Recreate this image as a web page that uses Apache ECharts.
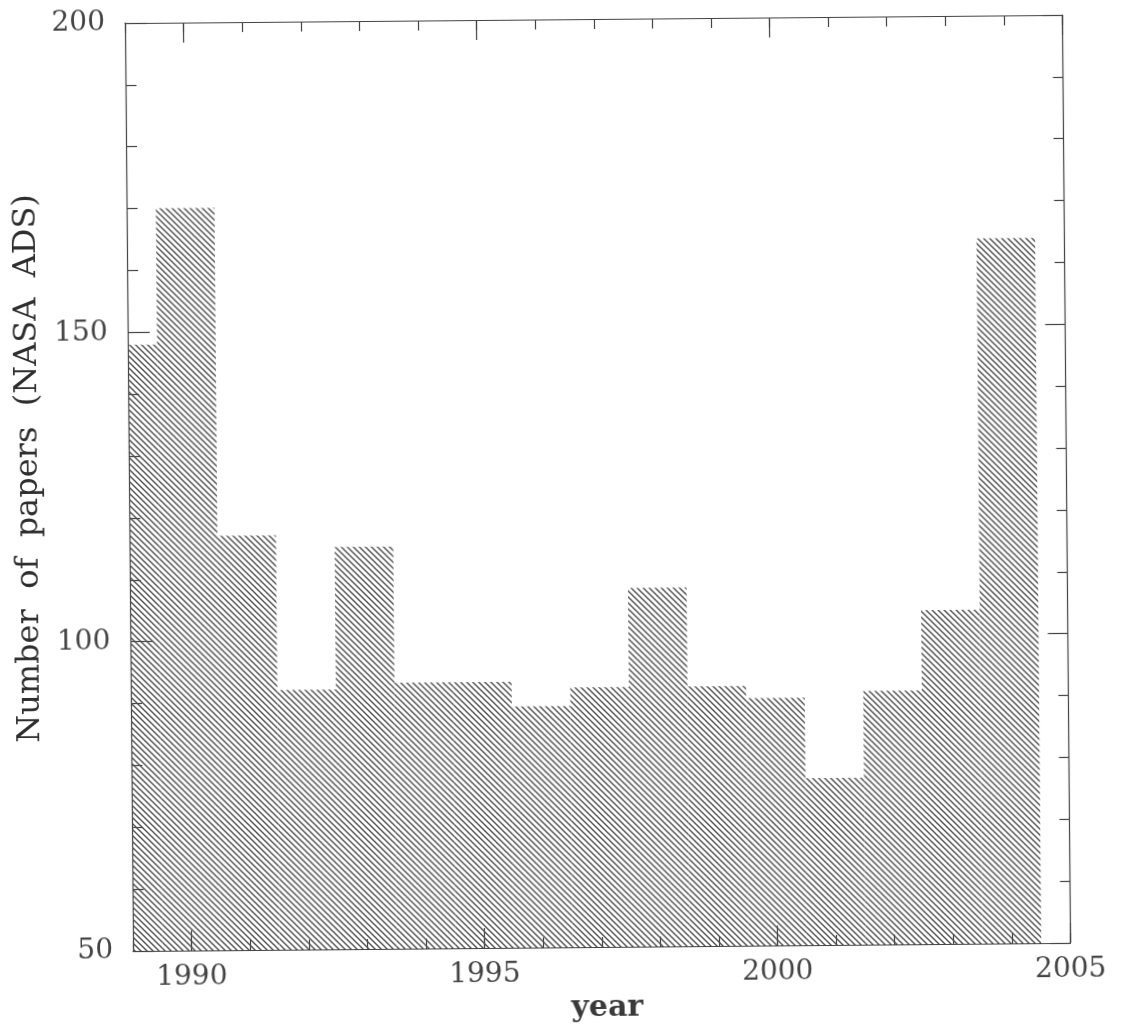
<!DOCTYPE html>
<html>
<head>
<meta charset="utf-8">
<script src="https://cdn.jsdelivr.net/npm/echarts@6/dist/echarts.min.js"></script>
<style>
  html, body { margin: 0; padding: 0; background: #ffffff; overflow: hidden; }
  #main { width: 1127px; height: 1032px; transform: rotate(-0.5deg); transform-origin: 597.75px 483px; }
</style>
</head>
<body>
<div id="main"></div>
<script>
// ---- data ----
const years = [1989, 1990, 1991, 1992, 1993, 1994, 1995, 1996, 1997, 1998, 1999, 2000, 2001, 2002, 2003, 2004];
const papers = [148, 170, 117, 92, 115, 93, 93, 89, 92, 108, 92, 90, 77, 91, 104, 164];
const xMajorTicks = [1990, 1995, 2000, 2005];
const xMinorTicks = [1989, 1990, 1991, 1992, 1993, 1994, 1995, 1996, 1997, 1998, 1999, 2000, 2001, 2002, 2003, 2004, 2005];
const yMajorTicks = [50, 100, 150, 200];
const yMinorTicks = [60, 70, 80, 90, 110, 120, 130, 140, 160, 170, 180, 190];
const xLabel = 'year';
const yLabel = 'Number  of  papers  (NASA  ADS)';

const X_MIN = 1989, X_MAX = 2005, Y_MIN = 50, Y_MAX = 200;
const FONT = 'DejaVu Serif';
const INK = '#444444';

// hatch pattern (lines from top-left to bottom-right)
function makeHatch() {
  const s = 6;
  const c = document.createElement('canvas');
  c.width = s; c.height = s;
  const g = c.getContext('2d');
  g.strokeStyle = '#505050';
  g.lineWidth = 1.4;
  g.beginPath();
  for (let k = -1; k <= 1; k++) {
    g.moveTo(k * s - 1, -1);
    g.lineTo(k * s + s + 1, s + 1);
  }
  g.stroke();
  return c;
}
const hatch = { type: 'pattern', image: makeHatch(), repeat: 'repeat' };

function plain(v) { return String(Math.round(v)); }

function axisX(pos, ticks, len, withLine, withLabel) {
  return {
    type: 'value', position: pos, min: X_MIN, max: X_MAX,
    splitLine: { show: false },
    axisLine: { show: withLine, onZero: false, lineStyle: { color: INK, width: 1.2 } },
    axisTick: { show: true, inside: true, length: len, customValues: ticks, lineStyle: { color: INK, width: 1.2 } },
    axisLabel: withLabel ? { show: true, customValues: ticks, formatter: plain, margin: 13, fontFamily: FONT, fontSize: 28, color: INK } : { show: false }
  };
}
function axisY(pos, ticks, len, withLine, withLabel) {
  return {
    type: 'value', position: pos, min: Y_MIN, max: Y_MAX,
    splitLine: { show: false },
    axisLine: { show: withLine, onZero: false, lineStyle: { color: INK, width: 1.2 } },
    axisTick: { show: true, inside: true, length: len, customValues: ticks, lineStyle: { color: INK, width: 1.2 } },
    axisLabel: withLabel ? { show: true, customValues: ticks, formatter: plain, margin: 20, fontFamily: FONT, fontSize: 28, color: INK } : { show: false }
  };
}

const xAxes = [
  axisX('bottom', xMajorTicks, 20, true, true),
  axisX('bottom', xMinorTicks, 10, false, false),
  axisX('top', xMajorTicks, 20, true, false),
  axisX('top', xMinorTicks, 10, false, false)
];
Object.assign(xAxes[0], {
  name: xLabel, nameLocation: 'middle', nameGap: 45,
  nameTextStyle: { fontFamily: FONT, fontWeight: 'bold', fontSize: 30, color: '#3a3a3a', padding: [0, 0, 0, 10] }
});
const yAxes = [
  axisY('left', yMajorTicks, 22, true, true),
  axisY('left', yMinorTicks, 11, false, false),
  axisY('right', yMajorTicks, 20, true, false),
  axisY('right', yMinorTicks, 10, false, false)
];
Object.assign(yAxes[0], {
  name: yLabel, nameLocation: 'middle', nameRotate: 90, nameGap: 80,
  nameTextStyle: { fontFamily: FONT, fontWeight: 'normal', fontSize: 32, color: '#2e2e2e', padding: [0, 0, 0, 39] }
});

const chart = echarts.init(document.getElementById('main'), null, { renderer: 'canvas' });
chart.setOption({
  backgroundColor: '#ffffff',
  animation: false,
  grid: { left: 129, top: 19, width: 937.5, height: 928, containLabel: false },
  xAxis: xAxes,
  yAxis: yAxes,
  series: [{
    type: 'custom',
    xAxisIndex: 0, yAxisIndex: 0,
    data: years.map((y, i) => [y, papers[i]]),
    encode: { x: 0, y: 1 },
    renderItem: function (params, api) {
      const x = api.value(0), v = api.value(1);
      const p1 = api.coord([x - 0.5, v]);
      const p2 = api.coord([x + 0.5, Y_MIN]);
      const cs = params.coordSys;
      const rect = echarts.graphic.clipRectByRect(
        { x: p1[0], y: p1[1], width: p2[0] - p1[0], height: p2[1] - p1[1] },
        { x: cs.x, y: cs.y, width: cs.width, height: cs.height }
      );
      if (!rect) return null;
      return { type: 'rect', shape: rect, style: { fill: hatch, stroke: null } };
    }
  }]
});
</script>
</body>
</html>
